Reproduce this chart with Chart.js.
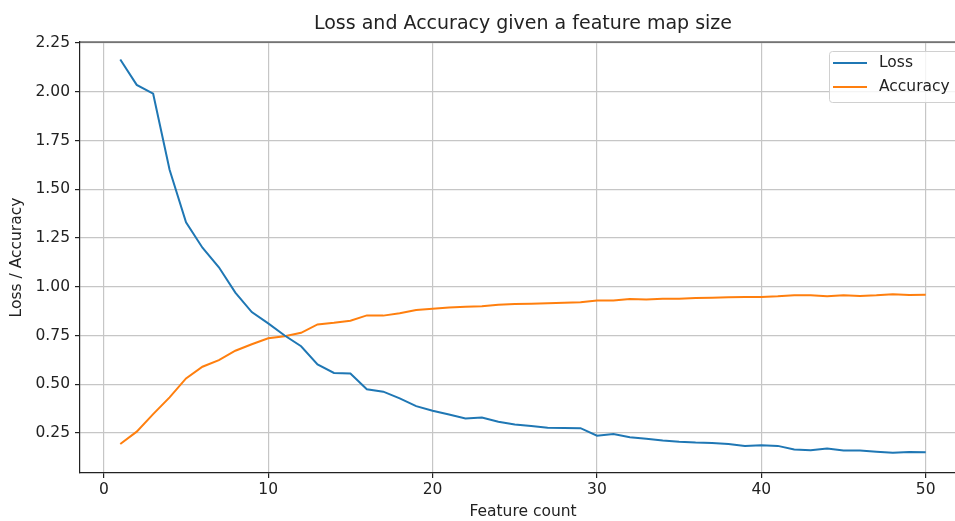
<!DOCTYPE html>
<html>
<head>
<meta charset="utf-8">
<title>Loss and Accuracy given a feature map size</title>
<script src="https://cdn.jsdelivr.net/npm/chart.js@4/dist/chart.umd.min.js"></script>
<style>
  html, body { margin: 0; padding: 0; background: #fff; overflow: hidden; }
  canvas { display: block; }
</style>
</head>
<body>
<canvas id="chart" width="980" height="521"></canvas>
<script>
// feature counts on the x axis
const featureCount = [
  1, 2, 3, 4, 5, 6, 7, 8, 9, 10,
  11, 12, 13, 14, 15, 16, 17, 18, 19, 20,
  21, 22, 23, 24, 25, 26, 27, 28, 29, 30,
  31, 32, 33, 34, 35, 36, 37, 38, 39, 40,
  41, 42, 43, 44, 45, 46, 47, 48, 49, 50,
];

const loss = [
  2.165, 2.035, 1.99, 1.60, 1.33, 1.20, 1.10, 0.97, 0.87, 0.812,
  0.75, 0.695, 0.602, 0.558, 0.555, 0.474, 0.462, 0.428, 0.388, 0.364,
  0.345, 0.325, 0.33, 0.308, 0.294, 0.286, 0.277, 0.276, 0.275, 0.236,
  0.245, 0.228, 0.221, 0.212, 0.205, 0.201, 0.199, 0.194, 0.184, 0.187,
  0.184, 0.165, 0.162, 0.17, 0.161, 0.16, 0.154, 0.149, 0.153, 0.151,
];

const accuracy = [
  0.194, 0.257, 0.347, 0.433, 0.530, 0.590, 0.624, 0.672, 0.705, 0.736,
  0.746, 0.764, 0.807, 0.815, 0.826, 0.853, 0.852, 0.864, 0.881, 0.887,
  0.894, 0.898, 0.90, 0.908, 0.912, 0.913, 0.915, 0.918, 0.92, 0.930,
  0.929, 0.937, 0.935, 0.939, 0.939, 0.942, 0.944, 0.946, 0.948, 0.948,
  0.951, 0.956, 0.956, 0.951, 0.956, 0.953, 0.956, 0.961, 0.958, 0.959,
];

const xTicks = [0, 10, 20, 30, 40, 50];
const yTicks = [0.25, 0.5, 0.75, 1.0, 1.25, 1.5, 1.75, 2.0, 2.25];

const chartTitle = "Loss and Accuracy given a feature map size";

const FONT = "'DejaVu Sans', sans-serif";
const INK = "#222";
const GRID = "#c6c6c6";
const TXT = 15.5;

// title over the plot area, top/right spine and the legend box
const frameAndLegend = {
  id: "frameAndLegend",
  afterDraw(chart) {
    const { ctx, chartArea: a } = chart;
    ctx.save();
    ctx.strokeStyle = INK;
    ctx.lineWidth = 1.2;
    ctx.beginPath();
    ctx.moveTo(a.left, a.top);
    ctx.lineTo(a.right, a.top);
    ctx.lineTo(a.right, a.bottom);
    ctx.stroke();

    ctx.fillStyle = INK;
    ctx.font = "19px " + FONT;
    ctx.textAlign = "center";
    ctx.textBaseline = "middle";
    ctx.fillText(chartTitle, (a.left + a.right) / 2, 24);

    const bx = 829, by = 51, bw = a.right - 6 - bx, bh = 51;
    ctx.fillStyle = "rgba(255,255,255,0.8)";
    ctx.strokeStyle = "#d0d0d0";
    ctx.lineWidth = 1;
    ctx.beginPath();
    ctx.roundRect(bx + 0.5, by + 0.5, bw, bh, 3);
    ctx.fill();
    ctx.stroke();

    ctx.font = TXT + "px " + FONT;
    ctx.textAlign = "left";
    chart.data.datasets.forEach((ds, i) => {
      const y = 63 + i * 24;
      ctx.strokeStyle = ds.borderColor;
      ctx.lineWidth = 2;
      ctx.beginPath();
      ctx.moveTo(833, y);
      ctx.lineTo(867, y);
      ctx.stroke();
      ctx.fillStyle = INK;
      ctx.fillText(ds.label, 879, y);
    });
    ctx.restore();
  },
};

new Chart(document.getElementById("chart"), {
  type: "line",
  data: {
    labels: featureCount,
    datasets: [
      {
        label: "Loss",
        data: featureCount.map((x, i) => ({ x, y: loss[i] })),
        borderColor: "#1f77b4",
        borderWidth: 2,
        pointRadius: 0,
        tension: 0,
      },
      {
        label: "Accuracy",
        data: featureCount.map((x, i) => ({ x, y: accuracy[i] })),
        borderColor: "#ff7f0e",
        borderWidth: 2,
        pointRadius: 0,
        tension: 0,
      },
    ],
  },
  options: {
    responsive: false,
    animation: false,
    layout: { padding: { left: 0, right: 14, top: 42, bottom: 0 } },
    scales: {
      x: {
        type: "linear",
        min: -1.45,
        max: 52.45,
        afterBuildTicks: (s) => { s.ticks = xTicks.map((v) => ({ value: v })); },
        afterFit: (s) => { s.height = 48; },
        grid: { color: GRID, lineWidth: 1.2, tickColor: INK, tickLength: 5, tickWidth: 1.2 },
        border: { color: INK, width: 1.2 },
        ticks: { color: INK, font: { family: FONT, size: TXT }, padding: 3, maxRotation: 0 },
        title: {
          display: true,
          text: "Feature count",
          color: INK,
          font: { family: FONT, size: TXT },
          padding: { top: 0, bottom: 0 },
        },
      },
      y: {
        min: 0.045,
        max: 2.255,
        afterBuildTicks: (s) => { s.ticks = yTicks.map((v) => ({ value: v })); },
        afterFit: (s) => { s.width = 80; },
        grid: { color: GRID, lineWidth: 1.2, tickColor: INK, tickLength: 5, tickWidth: 1.2 },
        border: { color: INK, width: 1.2 },
        ticks: {
          color: INK,
          font: { family: FONT, size: TXT },
          padding: 5,
          callback: (v) => Number(v).toFixed(2),
        },
        title: {
          display: true,
          text: "Loss / Accuracy",
          color: INK,
          font: { family: FONT, size: TXT },
          padding: { top: 8, bottom: 0 },
        },
      },
    },
    plugins: {
      legend: { display: false },
      tooltip: { enabled: false },
      title: { display: false },
    },
  },
  plugins: [frameAndLegend],
});
</script>
</body>
</html>
